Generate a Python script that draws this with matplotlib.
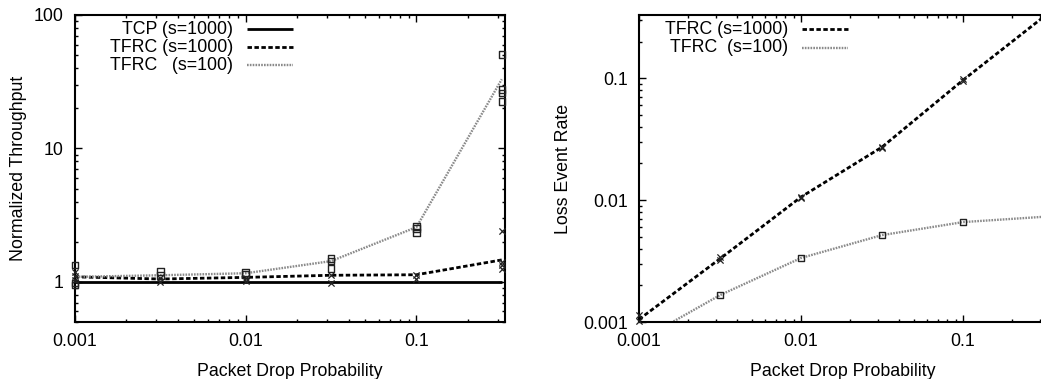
import matplotlib
matplotlib.use("Agg")
import matplotlib.pyplot as plt
from matplotlib.ticker import LogLocator, NullFormatter, FixedLocator, FixedFormatter

FS = 12.8
plt.rcParams['font.family'] = ['Liberation Sans', 'DejaVu Sans']
plt.rcParams['font.size'] = FS

# Packet drop probabilities used in the experiments
drop_prob = [0.001, 0.00316, 0.01, 0.0316, 0.1, 0.316]

# Left: normalized throughput (mean curves)
tcp_1000 = [1.0, 1.0, 1.0, 1.0, 1.0, 1.0]
tfrc_1000 = [1.09, 1.05, 1.08, 1.12, 1.13, 1.46]
tfrc_100 = [1.09, 1.12, 1.16, 1.43, 2.57, 33.0]

# Left: individual runs
tfrc_1000_runs = [[1.18, 1.03, 1.10], [1.06, 0.99], [1.07, 1.02],
                  [1.12, 0.98], [1.12, 1.05], [2.4, 1.4, 1.33, 1.24]]
tfrc_100_runs = [[1.34, 0.98, 0.95], [1.2, 1.12], [1.18, 1.14],
                 [1.49, 1.43, 1.26], [2.6, 2.5, 2.35], [50.5, 27.7, 26.0, 22.4]]

# Right: loss event rate
loss_1000 = [0.00105, 0.0033, 0.0106, 0.0272, 0.0964, 0.32]
loss_100 = [0.0007, 0.00166, 0.00335, 0.00516, 0.0066, 0.0073]
loss_1000_runs = [[0.00114, 0.00102], [0.0034, 0.0032], [0.0107, 0.0104],
                  [0.0275, 0.0268], [0.098, 0.095], [0.32]]
loss_100_runs = [[0.0007], [0.00166], [0.00335], [0.00516], [0.0066], [0.0073]]

x_ticks = [0.001, 0.01, 0.1]
x_ticklabels = ["0.001", "0.01", "0.1"]
left_yticks = [1, 10, 100]
left_yticklabels = ["1", "10", "100"]
right_yticks = [0.001, 0.01, 0.1]
right_yticklabels = ["0.001", "0.01", "0.1"]

W, H = 1041, 379
fig = plt.figure(figsize=(W / 100, H / 100), dpi=100)

ax1 = fig.add_axes([75 / W, (H - 322) / H, 430 / W, 307 / H])
ax2 = fig.add_axes([639 / W, (H - 322) / H, 408 / W, 307 / H])

solid_kw = dict(color='black', lw=2.0, solid_capstyle='butt')
dash_kw = dict(color='black', lw=2.0, linestyle=(0, (1.6, 0.9)))
gray_kw = dict(color='#8a8a8a', lw=1.7, linestyle=(0, (0.7, 0.5)))


def scatter_runs(ax, xs, runs, marker):
    px, py = [], []
    for x, vals in zip(xs, runs):
        for v in vals:
            px.append(x)
            py.append(v)
    if marker == 's':
        ax.scatter(px, py, marker='s', s=22, facecolors='none',
                   edgecolors='#222222', linewidths=1.0, clip_on=False, zorder=3)
    else:
        ax.scatter(px, py, marker='x', s=20, color='#222222',
                   linewidths=0.9, clip_on=False, zorder=3)


def style_axes(ax, xlim, ylim, yticks, yticklabels, right=True):
    ax.set_xscale('log')
    ax.set_yscale('log')
    ax.set_xlim(*xlim)
    ax.set_ylim(*ylim)
    ax.xaxis.set_major_locator(FixedLocator(x_ticks))
    ax.xaxis.set_major_formatter(FixedFormatter(x_ticklabels))
    ax.xaxis.set_minor_locator(LogLocator(base=10, subs=range(2, 10)))
    ax.xaxis.set_minor_formatter(NullFormatter())
    ax.yaxis.set_major_locator(FixedLocator(yticks))
    ax.yaxis.set_major_formatter(FixedFormatter(yticklabels))
    ax.yaxis.set_minor_locator(LogLocator(base=10, subs=range(2, 10)))
    ax.yaxis.set_minor_formatter(NullFormatter())
    ax.tick_params(which='both', direction='in', top=True, right=right,
                   colors='black', labelsize=FS)
    ax.tick_params(which='major', length=5, width=1.0, pad=8)
    ax.tick_params(which='minor', length=2.5, width=1.0)
    for sp in ax.spines.values():
        sp.set_linewidth(1.5)
    ax.set_xlabel("Packet Drop Probability", labelpad=9)


# Left panel
ax1.plot(drop_prob, tcp_1000, **solid_kw, zorder=2)
ax1.plot(drop_prob, tfrc_1000, **dash_kw, zorder=2)
ax1.plot(drop_prob, tfrc_100, **gray_kw, zorder=2)
scatter_runs(ax1, drop_prob, tfrc_1000_runs, 'x')
scatter_runs(ax1, drop_prob, tfrc_100_runs, 's')
style_axes(ax1, (0.001, 0.33), (0.5, 100), left_yticks, left_yticklabels)
ax1.set_ylabel("Normalized Throughput", labelpad=5)

legend1 = [("TCP (s=1000)", solid_kw), ("TFRC (s=1000)", dash_kw),
           ("TFRC   (s=100)", gray_kw)]
for i, (label, kw) in enumerate(legend1):
    yy = [0.954, 0.895, 0.837][i]
    ax1.text(0.367, yy, label, transform=ax1.transAxes, ha='right',
             va='center', fontsize=FS)
    ax1.plot([0.40, 0.507], [yy, yy], transform=ax1.transAxes, **kw)

# Right panel
ax2.plot(drop_prob, loss_1000, **dash_kw, zorder=2)
ax2.plot(drop_prob, loss_100, **gray_kw, zorder=2)
scatter_runs(ax2, drop_prob[:5], loss_1000_runs[:5], 'x')
scatter_runs(ax2, drop_prob[1:5], loss_100_runs[1:5], 's')
style_axes(ax2, (0.001, 0.33), (0.001, 0.33), right_yticks, right_yticklabels,
           right=False)
ax2.set_ylabel("Loss Event Rate", labelpad=8)

legend2 = [("TFRC (s=1000)", dash_kw), ("TFRC  (s=100)", gray_kw)]
for i, (label, kw) in enumerate(legend2):
    yy = [0.954, 0.893][i]
    ax2.text(0.365, yy, label, transform=ax2.transAxes, ha='right',
             va='center', fontsize=FS)
    ax2.plot([0.40, 0.512], [yy, yy], transform=ax2.transAxes, **kw)

fig.savefig("out.png", dpi=100)
